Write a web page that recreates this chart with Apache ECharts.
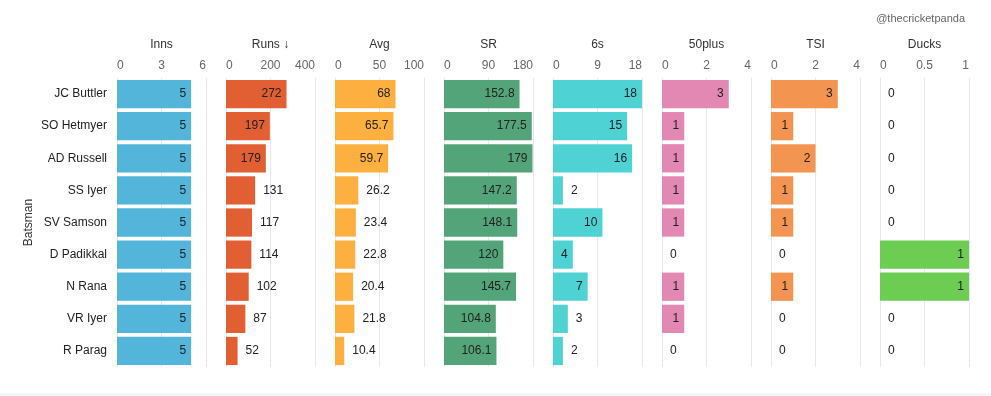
<!DOCTYPE html>
<html>
<head>
<meta charset="utf-8">
<script src="https://cdn.jsdelivr.net/npm/echarts@6/dist/echarts.min.js"></script>
<style>
html, body { margin: 0; padding: 0; background: #fff; }
#chart { width: 991px; height: 396px; }
</style>
</head>
<body>
<div id="chart"></div>
<script>
var batsmen = ['JC Buttler', 'SO Hetmyer', 'AD Russell', 'SS Iyer', 'SV Samson', 'D Padikkal', 'N Rana', 'VR Iyer', 'R Parag'];

var inns    = [5, 5, 5, 5, 5, 5, 5, 5, 5];
var runs    = [272, 197, 179, 131, 117, 114, 102, 87, 52];
var avg     = [68, 65.7, 59.7, 26.2, 23.4, 22.8, 20.4, 21.8, 10.4];
var sr      = [152.8, 177.5, 179, 147.2, 148.1, 120, 145.7, 104.8, 106.1];
var sixes   = [18, 15, 16, 2, 10, 4, 7, 3, 2];
var fifties = [3, 1, 1, 1, 1, 0, 1, 1, 0];
var tsi     = [3, 1, 2, 1, 1, 0, 1, 0, 0];
var ducks   = [0, 0, 0, 0, 0, 1, 1, 0, 0];

var panels = [
    {name: 'Inns',    data: inns,    max: 6,   interval: 3,   color: '#52b5d9'},
    {name: 'Runs \u2193', data: runs, max: 400, interval: 200, color: '#e15f32'},
    {name: 'Avg',     data: avg,     max: 100, interval: 50,  color: '#fdb03f'},
    {name: 'SR',      data: sr,      max: 180, interval: 90,  color: '#54a47a'},
    {name: '6s',      data: sixes,   max: 18,  interval: 9,   color: '#4fd2d3'},
    {name: '50plus',  data: fifties, max: 4,   interval: 2,   color: '#e387b3'},
    {name: 'TSI',     data: tsi,     max: 4,   interval: 2,   color: '#f39450'},
    {name: 'Ducks',   data: ducks,   max: 1,   interval: 0.5, color: '#6ccd52'}
];

var left0 = 117, step = 109, panelW = 89, top0 = 78, panelH = 289;
var fontFam = 'Liberation Sans, Arial, sans-serif';

var grids = [], xAxes = [], yAxes = [], series = [];

panels.forEach(function (p, i) {
    grids.push({left: left0 + i * step, top: top0, width: panelW, height: panelH});
    xAxes.push({
        type: 'value',
        gridIndex: i,
        position: 'top',
        min: 0,
        max: p.max,
        interval: p.interval,
        name: p.name,
        nameLocation: 'middle',
        nameGap: 27,
        nameTextStyle: {color: '#333', fontSize: 12, fontFamily: fontFam},
        axisLine: {show: false},
        axisTick: {show: false},
        axisLabel: {color: '#666', fontSize: 12, fontFamily: fontFam, margin: 6,
                    alignMinLabel: 'left', alignMaxLabel: 'right'},
        splitLine: {show: true, lineStyle: {color: '#e4e8ee', width: 1}}
    });
    yAxes.push({
        type: 'category',
        gridIndex: i,
        data: batsmen,
        inverse: true,
        name: i === 0 ? 'Batsman' : '',
        nameLocation: 'middle',
        nameGap: 82,
        nameRotate: 90,
        nameTextStyle: {color: '#333', fontSize: 12, fontFamily: fontFam},
        axisLine: {show: false},
        axisTick: {show: false},
        axisLabel: {show: i === 0, color: '#222', fontSize: 12, fontFamily: fontFam, margin: 10}
    });

    // label goes inside the bar when it fits, otherwise to the right
    var items = p.data.map(function (v) {
        var txt = String(v);
        var barPx = v / p.max * panelW;
        var fits = barPx > txt.length * 7 + 9;
        return {
            value: v,
            label: fits ? {position: 'insideRight', distance: 5} : {position: 'right', distance: 8}
        };
    });

    series.push({
        type: 'bar',
        xAxisIndex: i,
        yAxisIndex: i,
        data: items,
        barCategoryGap: '12%',
        itemStyle: {color: p.color},
        label: {show: true, color: '#222', fontSize: 12, fontFamily: fontFam},
        silent: true
    });
});

var dom = document.getElementById('chart');
var myChart = echarts.init(dom);
var option = {
    animation: false,
    backgroundColor: '#fff',
    textStyle: {fontFamily: fontFam},
    title: {
        text: '@thecricketpanda',
        right: 21,
        top: 8,
        textStyle: {color: '#666', fontSize: 11, fontWeight: 'normal', fontFamily: fontFam}
    },
    grid: grids,
    xAxis: xAxes,
    yAxis: yAxes,
    series: series,
    graphic: [{
        type: 'rect',
        left: 0,
        top: 393,
        shape: {width: 991, height: 3},
        style: {fill: '#f1f4f8'},
        silent: true
    }]
};
myChart.setOption(option, true);
</script>
</body>
</html>
